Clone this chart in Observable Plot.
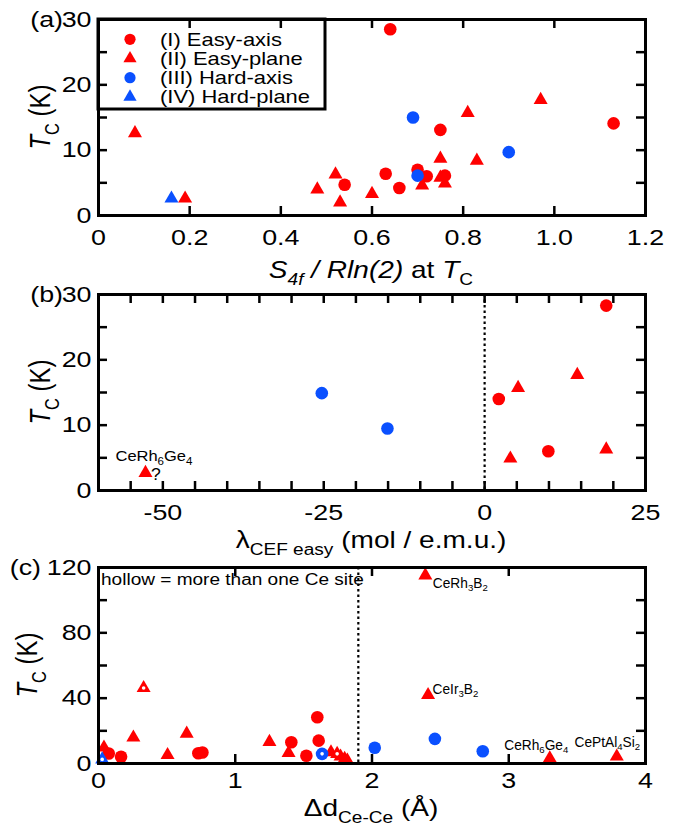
<!DOCTYPE html>
<html>
<head>
<meta charset="utf-8">
<script src="https://cdn.jsdelivr.net/npm/d3@7"></script>
<script src="https://cdn.jsdelivr.net/npm/@observablehq/plot@0.6"></script>
<style>
html,body{margin:0;padding:0;background:#fff;}
#wrap{width:688px;height:829px;overflow:hidden;background:#fff;}
#wrap svg{display:block;overflow:visible;background:transparent;}
</style>
</head>
<body>
<div id="wrap"></div>
<script>
// ---------------- data ----------------
const classes = ["(I) Easy-axis", "(II) Easy-plane", "(III) Hard-axis", "(IV) Hard-plane"];
const classColors = ["#ff0000", "#ff0000", "#0a50ff", "#0a50ff"];
const classSymbols = ["circle", "triangle", "circle", "triangle"];

// panel (a): S4f / Rln(2) at Tc  vs  Tc (K)
const aS4f = [0.64, 0.75, 1.13, 0.54, 0.63, 0.66, 0.70, 0.72, 0.76,
              0.08, 0.19, 0.48, 0.52, 0.53, 0.60, 0.71, 0.75, 0.75, 0.76, 0.81, 0.83, 0.97,
              0.69, 0.70, 0.90,
              0.16];
const aTc  = [28.5, 13.1, 14.1, 4.7, 6.4, 4.2, 7.0, 6.0, 6.1,
              12.6, 2.6, 4.0, 6.3, 2.0, 3.3, 4.6, 8.7, 5.8, 4.9, 15.7, 8.4, 17.7,
              15.0, 6.1, 9.7,
              2.6];
const aClass = [0,0,0,0,0,0,0,0,0, 1,1,1,1,1,1,1,1,1,1,1,1,1, 2,2,2, 3];

// panel (b): lambda_CEF easy (mol / e.m.u.)  vs  Tc (K)
const bLambda = [18.9, 2.2, 9.9, 14.4, 5.2, 4.0, 18.9, -52.7, -25.3, -15.1];
const bTc     = [28.3, 14.0, 6.0, 17.7, 15.7, 4.9, 6.3, 2.7, 14.9, 9.5];
const bClass  = [0, 0, 0, 1, 1, 1, 1, 1, 2, 2];
const bLabelIndex = 7;
const bLabelText = ["CeRh", "6", "Ge", "4"];

// panel (c): Delta d Ce-Ce (Å)  vs  Tc (K)
const cDelta = [0.027, 0.04, 0.075, 0.165, 0.255, 0.33, 0.505, 0.645, 0.73, 0.76,
                1.25, 1.39, 1.41, 1.52, 1.60, 1.61, 1.635, 1.70, 1.745, 1.77, 1.80, 1.82,
                2.02, 2.39, 2.41, 2.46, 2.81, 3.30, 3.79];
const cTc    = [2.5, 9.8, 6.1, 4.1, 15.9, 46.2, 5.2, 18.3, 6.3, 6.7,
                13.2, 6.5, 13.0, 4.7, 28.3, 14.0, 5.9, 6.9, 5.9, 4.3, 2.9, 1.8,
                9.6, 115.2, 41.9, 15.1, 7.5, 3.2, 4.3];
const cClass = [3, 1, 0, 0, 1, 1, 1, 1, 0, 0,
                1, 1, 0, 0, 0, 0, 2, 1, 1, 1, 1, 1,
                2, 1, 1, 2, 2, 1, 1];
const cHollow = [1, 0, 0, 0, 0, 1, 0, 0, 0, 0,
                 0, 0, 0, 0, 0, 0, 1, 0, 1, 0, 0, 0,
                 0, 0, 0, 0, 0, 0, 0];
const cLabelIndex = [23, 24, 27, 28];
const cLabelText = [["CeRh", "3", "B", "2"], ["CeIr", "3", "B", "2"],
                    ["CeRh", "6", "Ge", "4"], ["CePtAl", "4", "Si", "2"]];
const cNote = "hollow = more than one Ce site";

// tick labels and minor ticks
const aXLabels = [0, 0.2, 0.4, 0.6, 0.8, 1.0, 1.2];
const aYLabels = [0, 10, 20, 30];
const aXMinor = [0.2, 0.4, 0.6, 0.8, 1.0];
const aYMinor = [5, 10, 15, 20, 25];
const bXLabels = [-50, -25, 0, 25];
const bYLabels = [0, 10, 20, 30];
const bXMinor = [-55, -50, -45, -40, -35, -30, -25, -20, -15, -10, -5, 0, 5, 10, 15, 20];
const bYMinor = [5, 10, 15, 20, 25];
const cXLabels = [0, 1, 2, 3, 4];
const cYLabels = [0, 40, 80, 120];
const cXMinor = [1, 2, 3];
const cYMinor = [20, 40, 60, 80, 100];

// ---------------- layout / style ----------------
const FONT = "'Liberation Sans', Arial, Helvetica, sans-serif";
const W = 688, ML = 98, MR = 43;
const S = 1.22; // horizontal text stretch of the reference

function pts(xs, ys, cls, hollow) {
  return xs.map((x, i) => ({x, y: ys[i], c: classes[cls[i]], k: cls[i], h: hollow ? hollow[i] : 0}));
}

function dotMarks(data) {
  const out = [];
  for (const k of [0, 1, 2, 3]) {
    out.push(Plot.dot(data.filter(d => d.k === k), {
      x: "x", y: "y", fill: "c", symbol: "c",
      r: classSymbols[k] === "circle" ? 6.3 : 5.2
    }));
  }
  out.push(Plot.dot(data.filter(d => d.h), {x: "x", y: "y", r: 1.8, fill: "white"}));
  return out;
}

function makePanel({height, mt, mb, xDomain, yDomain, xMinor, yMinor, xLabels, yLabels, xFmt, yFmt, xPad, marks}) {
  const fw = W - ML - MR, fh = height - mt - mb, tl = 9;
  return Plot.plot({
    width: W, height, marginLeft: ML, marginRight: MR, marginTop: mt, marginBottom: mb,
    style: {fontFamily: FONT, color: "#000", background: "transparent", overflow: "visible"},
    x: {domain: xDomain},
    y: {domain: yDomain},
    color: {domain: classes, range: classColors},
    symbol: {domain: classes, range: classSymbols},
    marks: [
      Plot.ruleX(xMinor, {x: d => d, insetTop: fh - tl, strokeWidth: 2.5}),
      Plot.ruleX(xMinor, {x: d => d, insetBottom: fh - tl, strokeWidth: 2.5}),
      Plot.ruleY(yMinor, {y: d => d, insetRight: fw - tl, strokeWidth: 2.5}),
      Plot.ruleY(yMinor, {y: d => d, insetLeft: fw - tl, strokeWidth: 2.5}),
      Plot.axisX(xLabels, {tickSize: 0, tickPadding: xPad, tickFormat: xFmt, fontSize: 22, label: null, fill: "#000"}),
      Plot.axisY(yLabels, {tickSize: 0, tickPadding: 7, tickFormat: yFmt, fontSize: 22, label: null, fill: "#000"}),
      ...marks,
      Plot.frame({stroke: "#000", strokeWidth: 3})
    ]
  });
}

function richText(svg, x, y, parts, {size = 23, anchor = "middle", rotate = 0, sx = S, subScale = 0.68, subShift = 0.3} = {}) {
  const g = svg.append("g").attr("transform", `translate(${x},${y}) scale(${sx},1)` + (rotate ? ` rotate(${rotate})` : ""));
  const t = g.append("text").attr("text-anchor", anchor).attr("font-family", FONT)
    .attr("font-size", size).attr("fill", "#000");
  let cur = 0;
  parts.forEach(p => {
    const [s, st = ""] = Array.isArray(p) ? p : [p, ""];
    const sub = st.includes("sub");
    const target = sub ? size * subShift : 0;
    const ts = t.append("tspan").text(s);
    if (target !== cur) { ts.attr("dy", target - cur); cur = target; }
    if (sub) ts.attr("font-size", size * subScale);
    if (st.includes("i")) ts.attr("font-style", "italic");
  });
  return t;
}

function formulaParts(arr) {
  return arr.map((s, i) => i % 2 ? [s, "sub"] : [s, ""]);
}

function stretchAxisLabels(svg) {
  svg.selectAll('g[aria-label$="tick label"] text').each(function () {
    const w = this.getComputedTextLength();
    this.setAttribute("textLength", w * S);
    this.setAttribute("lengthAdjust", "spacingAndGlyphs");
  });
}

const wrap = document.getElementById("wrap");
const fmtDec = d => d === 0 ? "0" : d.toFixed(1);
const fmtInt = d => String(d);

// ---------------- panel (a) ----------------
const pa = makePanel({
  height: 275, mt: 19, mb: 60,
  xDomain: [0, 1.2], yDomain: [0, 30],
  xMinor: aXMinor, yMinor: aYMinor, xLabels: aXLabels, yLabels: aYLabels,
  xFmt: fmtDec, yFmt: fmtInt, xPad: 14,
  marks: dotMarks(pts(aS4f, aTc, aClass))
});
wrap.append(pa);
{
  const svg = d3.select(pa);
  stretchAxisLabels(svg);
  richText(svg, 63, 27, ["(a)"], {size: 22, anchor: "end"});
  richText(svg, 50, 117, [["T", "i"], ["C", "sub"], " (K)"], {size: 24, rotate: -90, sx: 1.2});
  richText(svg, 371, 278, [["S", "i"], ["4f", "sub i"], [" / Rln(2)", "i"], " at ", ["T", "i"], ["C", "sub"]], {size: 23});
  // legend
  const lg = svg.append("g");
  lg.append("rect").attr("x", 98).attr("y", 19).attr("width", 227).attr("height", 90)
    .attr("fill", "none").attr("stroke", "#000").attr("stroke-width", 3);
  const colorScale = pa.scale("color");
  classes.forEach((c, i) => {
    const yy = 39.3 + i * 19.2;
    const circ = classSymbols[i] === "circle";
    lg.append("path")
      .attr("d", d3.symbol(circ ? d3.symbolCircle : d3.symbolTriangle, circ ? Math.PI * 5.6 * 5.6 : Math.PI * 4.9 * 4.9)())
      .attr("transform", `translate(130,${yy})`)
      .attr("fill", colorScale.apply(c));
    richText(lg, 160, yy + 6.3, [c], {size: 18, anchor: "start"});
  });
}

// ---------------- panel (b) ----------------
const pb = makePanel({
  height: 270, mt: 19, mb: 55,
  xDomain: [-60, 25], yDomain: [0, 30],
  xMinor: bXMinor, yMinor: bYMinor, xLabels: bXLabels, yLabels: bYLabels,
  xFmt: fmtInt, yFmt: fmtInt, xPad: 14,
  marks: [
    Plot.ruleX([0], {strokeDasharray: "2.5,3", strokeWidth: 2.2}),
    ...dotMarks(pts(bLambda, bTc, bClass))
  ]
});
wrap.append(pb);
{
  const svg = d3.select(pb);
  stretchAxisLabels(svg);
  const x = pb.scale("x"), y = pb.scale("y");
  richText(svg, 63, 27, ["(b)"], {size: 22, anchor: "end"});
  richText(svg, 50, 117, [["T", "i"], ["C", "sub"], " (K)"], {size: 24, rotate: -90, sx: 1.2});
  richText(svg, 371, 273, ["λ", ["CEF easy", "sub"], " (mol / e.m.u.)"], {size: 23});
  const px = x.apply(bLambda[bLabelIndex]), py = y.apply(bTc[bLabelIndex]);
  richText(svg, px + 9, py - 11, formulaParts(bLabelText), {size: 15, subScale: 0.7, subShift: 0.25, sx: 1.1});
  richText(svg, px + 6, py + 8, ["?"], {size: 16, anchor: "start", sx: 1.1});
}

// ---------------- panel (c) ----------------
const pc = makePanel({
  height: 284, mt: 22, mb: 66,
  xDomain: [0, 4], yDomain: [0, 120],
  xMinor: cXMinor, yMinor: cYMinor, xLabels: cXLabels, yLabels: cYLabels,
  xFmt: fmtInt, yFmt: fmtInt, xPad: 9,
  marks: [
    Plot.ruleX([1.9], {strokeDasharray: "2.5,3", strokeWidth: 2.2}),
    ...dotMarks(pts(cDelta, cTc, cClass, cHollow))
  ]
});
wrap.append(pc);
{
  const svg = d3.select(pc);
  stretchAxisLabels(svg);
  const x = pc.scale("x"), y = pc.scale("y");
  richText(svg, 41, 30, ["(c)"], {size: 22, anchor: "end"});
  richText(svg, 37, 120, [["T", "i"], ["C", "sub"], " (K)"], {size: 24, rotate: -90, sx: 1.2});
  richText(svg, 371, 271, ["Δd", ["Ce-Ce", "sub"], " (Å)"], {size: 23});
  richText(svg, 101, 40, [cNote], {size: 16, anchor: "start", sx: 1.19});
  const offs = [[8, 13, "start"], [5, -1, "start"], [-13, -8, "middle"], [-9, -9, "middle"]];
  cLabelIndex.forEach((idx, j) => {
    const px = x.apply(cDelta[idx]), py = y.apply(cTc[idx]);
    const [dx, dy, an] = offs[j];
    richText(svg, px + dx, py + dy, formulaParts(cLabelText[j]), {size: 14, anchor: an, subScale: 0.7, subShift: 0.25, sx: 0.98});
  });
}
</script>
</body>
</html>
